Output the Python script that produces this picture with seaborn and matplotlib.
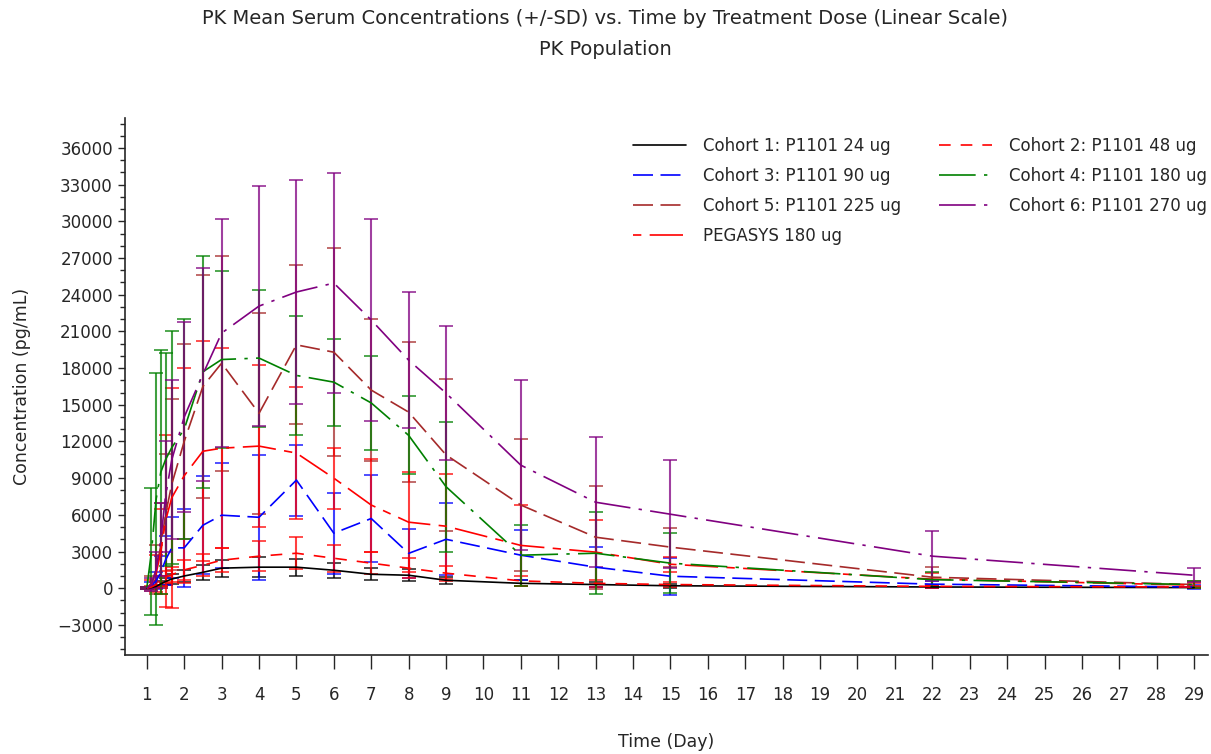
import numpy as np
import pandas as pd
import matplotlib
matplotlib.use('Agg')
import matplotlib.pyplot as plt
from matplotlib.ticker import MultipleLocator
import seaborn as sns

# Sampling times (day); day 1 plus hours after the dose
times = [1, 1.125, 1.25, 1.375, 1.5, 1.667, 2, 2.5, 3, 4, 5, 6, 7, 8, 9, 11, 13, 15, 22, 29]

groups = ['Cohort 1: P1101 24 ug', 'Cohort 3: P1101 90 ug', 'Cohort 5: P1101 225 ug',
          'PEGASYS 180 ug', 'Cohort 2: P1101 48 ug', 'Cohort 4: P1101 180 ug',
          'Cohort 6: P1101 270 ug']

# mean concentrations (pg/mL)
c1_mean = [0, 50, 150, 350, 550, 750, 1000, 1300, 1640, 1720, 1720, 1470, 1140, 1060, 650, 400, 300, 200, 100, 50]
c2_mean = [0, 100, 300, 600, 900, 1100, 1500, 1880, 2290, 2620, 2860, 2450, 2050, 1640, 1230, 600, 400, 300, 150, 100]
c3_mean = [0, 200, 600, 1300, 2300, 3300, 3300, 5150, 5970, 5800, 8840, 4500, 5700, 2850, 4000, 2700, 1720, 980, 330, 100]
c4_mean = [0, 3000, 7300, 9500, 10500, 11500, 13000, 17700, 18700, 18820, 17400, 16850, 15150, 12500, 8300, 2700, 2860, 2050, 700, 300]
c5_mean = [0, 400, 1500, 3500, 6000, 8500, 12000, 16500, 18400, 14300, 19900, 19300, 16200, 14400, 10900, 6800, 4170, 3360, 900, 300]
c6_mean = [0, 300, 1500, 4000, 7500, 10500, 14000, 17500, 20860, 23070, 24220, 24950, 21930, 18650, 15950, 10060, 7030, 6050, 2620, 1060]
peg_mean = [0, 300, 1200, 3000, 5500, 7400, 9200, 11200, 11450, 11620, 11050, 9000, 6800, 5400, 5070, 3500, 2950, 1960, 740, 250]

# standard deviations (pg/mL)
c1_sd = [50, 50, 100, 200, 300, 400, 500, 600, 700, 800, 700, 600, 500, 500, 300, 250, 200, 150, 80, 50]
c2_sd = [50, 100, 200, 400, 500, 600, 800, 900, 1000, 1200, 1300, 1100, 900, 800, 600, 400, 300, 200, 100, 80]
c3_sd = [50, 300, 700, 1300, 2000, 2500, 3200, 4000, 4300, 5100, 2900, 3300, 3550, 2000, 2950, 2050, 1650, 1500, 300, 150]
c4_sd = [100, 5200, 10300, 10000, 8700, 9500, 9000, 9500, 7200, 5600, 4900, 3550, 3850, 3200, 5300, 2500, 3350, 2450, 600, 300]
c5_sd = [100, 600, 2000, 3500, 5000, 7000, 8000, 9100, 8800, 8200, 6500, 8500, 5800, 5700, 6200, 5400, 4200, 1600, 800, 300]
c6_sd = [100, 500, 1500, 3000, 4500, 6500, 7800, 8700, 9340, 9830, 9180, 9000, 8270, 5550, 5500, 6940, 5320, 4420, 2040, 570]
peg_sd = [100, 400, 1500, 3500, 7000, 9000, 8800, 9000, 8200, 6600, 5400, 2500, 3800, 4100, 4300, 3300, 2600, 600, 500, 200]

means = [c1_mean, c3_mean, c5_mean, peg_mean, c2_mean, c4_mean, c6_mean]
sds = [c1_sd, c3_sd, c5_sd, peg_sd, c2_sd, c4_sd, c6_sd]

palette = {
    groups[0]: '#000000',
    groups[1]: '#0000FF',
    groups[2]: '#A52A2A',
    groups[3]: '#FF0000',
    groups[4]: '#FF0000',
    groups[5]: '#008000',
    groups[6]: '#800080',
}
dashes = {
    groups[0]: '',
    groups[1]: (12, 4.5),
    groups[2]: (12, 4.5),
    groups[3]: (5, 5, 20, 5),
    groups[4]: (7, 6),
    groups[5]: (22, 5, 2, 5),
    groups[6]: (22, 5, 2, 5),
}

rows = []
for g, m, s in zip(groups, means, sds):
    for t, mv, sv in zip(times, m, s):
        rows.append({'time': t, 'mean': mv, 'sd': sv, 'group': g})
df = pd.DataFrame(rows)

sns.set_style('ticks')
plt.rcParams['font.family'] = ['DejaVu Sans']

fig = plt.figure(figsize=(12.11, 7.54), dpi=100)
ax = fig.add_axes([0.103, 0.131, 0.8945, 0.7125])

# SD error bars
for g in groups:
    d = df[df['group'] == g]
    ax.errorbar(d['time'], d['mean'], yerr=d['sd'], fmt='none', ecolor=palette[g],
                elinewidth=1.5, capsize=5, capthick=1.3, alpha=0.75, zorder=1)

sns.lineplot(data=df, x='time', y='mean', hue='group', style='group',
             hue_order=groups, style_order=groups, palette=palette, dashes=dashes,
             linewidth=1.2, ax=ax, zorder=3)

ax.set_xlim(0.41, 29.37)
ax.set_xticks(range(1, 30))
ax.yaxis.set_minor_locator(MultipleLocator(1000))
ax.set_yticks(range(-3000, 36001, 3000))
ax.set_ylim(-5480, 38450)
ax.tick_params(axis='x', length=10, width=1, labelsize=12, pad=12)
ax.tick_params(axis='y', which='major', length=5, width=1, labelsize=12)
ax.tick_params(axis='y', which='minor', length=3.5, width=1)

sns.despine(ax=ax)
ax.spines['left'].set_linewidth(1.2)
ax.spines['bottom'].set_linewidth(1.2)

ax.set_xlabel('Time (Day)', fontsize=12.5, labelpad=21)
ax.set_ylabel('Concentration (pg/mL)', fontsize=12.5, labelpad=19)

leg = ax.legend(title=None, ncol=2, loc='upper right', bbox_to_anchor=(1.013, 0.993),
                frameon=False, fontsize=12, handlelength=3.2, columnspacing=2.3,
                labelspacing=0.72, handletextpad=1.0)

fig.text(0.5, 0.975, 'PK Mean Serum Concentrations (+/-SD) vs. Time by Treatment Dose (Linear Scale)',
         ha='center', va='center', fontsize=14)
fig.text(0.5, 0.935, 'PK Population', ha='center', va='center', fontsize=14)

fig.savefig('out.png', dpi=100)
